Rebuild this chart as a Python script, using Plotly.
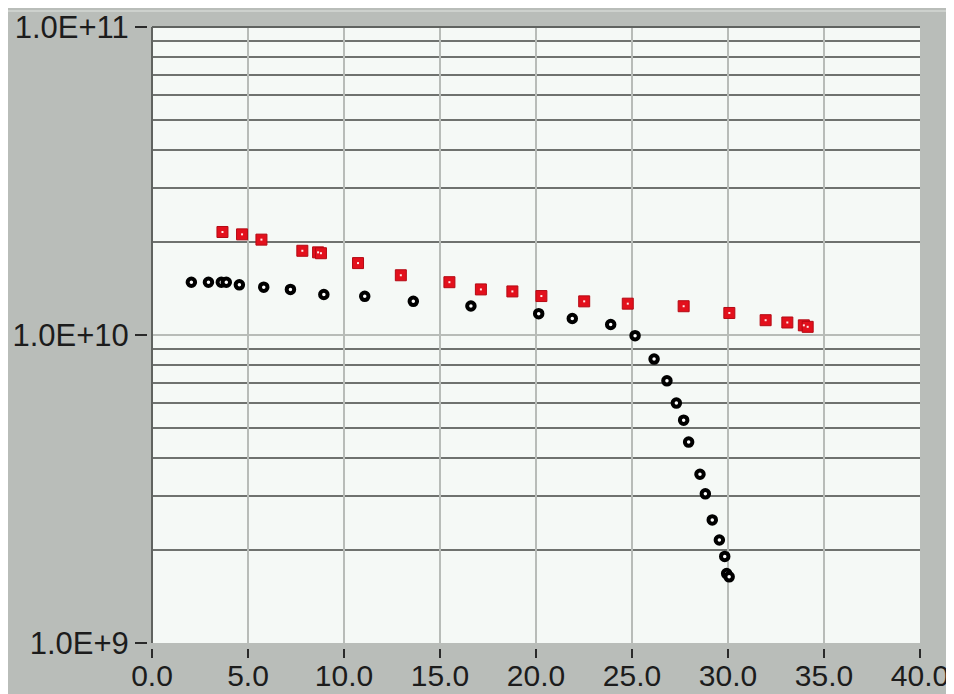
import plotly.graph_objects as go

# ---- data ----
red_x = [3.67, 4.69, 5.70, 7.83, 8.65, 8.80, 10.73, 12.96, 15.49, 17.13, 18.77,
         20.28, 22.51, 24.78, 27.69, 30.07, 31.96, 33.09, 33.95, 34.15]
red_y = [2.160e10, 2.122e10, 2.040e10, 1.877e10, 1.855e10, 1.843e10, 1.712e10,
         1.563e10, 1.484e10, 1.406e10, 1.385e10, 1.338e10, 1.286e10, 1.264e10,
         1.240e10, 1.179e10, 1.117e10, 1.098e10, 1.075e10, 1.063e10]

black_x = [2.05, 2.94, 3.61, 3.87, 4.55, 5.82, 7.21, 8.95, 11.08, 13.61, 16.61,
           20.14, 21.89, 23.89, 25.16, 26.15, 26.82, 27.31, 27.69, 27.95, 28.54,
           28.82, 29.18, 29.55, 29.83, 29.93, 30.06]
black_y = [1.484e10, 1.484e10, 1.484e10, 1.484e10, 1.455e10, 1.430e10, 1.406e10,
           1.354e10, 1.335e10, 1.286e10, 1.242e10, 1.173e10, 1.131e10, 1.082e10,
           9.95e9, 8.35e9, 7.10e9, 6.01e9, 5.29e9, 4.49e9, 3.53e9, 3.05e9,
           2.51e9, 2.16e9, 1.91e9, 1.68e9, 1.64e9]

x_ticks = [0, 5, 10, 15, 20, 25, 30, 35, 40]
x_ticktext = ["0.0", "5.0", "10.0", "15.0", "20.0", "25.0", "30.0", "35.0", "40.0"]
y_ticks = [1e9, 1e10, 1e11]
y_ticktext = ["1.0E+9", "1.0E+10", "1.0E+11"]
y_minor = [k * 10 ** e for e in (9, 10) for k in range(2, 10)]

FONT = "Liberation Sans, Arial, sans-serif"
GRAY_BG = "#b9bdb9"
PLOT_BG = "#f5f9f6"
TXT = "#1c1c1c"

fig = go.Figure()

fig.add_trace(go.Scatter(
    x=black_x, y=black_y, mode="markers",
    marker=dict(symbol="circle", size=7.5, color="white",
                line=dict(color="black", width=4)),
    showlegend=False, hoverinfo="x+y"))

fig.add_trace(go.Scatter(
    x=red_x, y=red_y, mode="markers",
    marker=dict(symbol="square", size=11, color="#e3101c",
                line=dict(color="#b40a14", width=1)),
    showlegend=False, hoverinfo="x+y"))
fig.add_trace(go.Scatter(
    x=red_x, y=red_y, mode="markers",
    marker=dict(symbol="square", size=2, color="#ffe8e8", line=dict(width=0)),
    showlegend=False, hoverinfo="skip"))

FIG_W, FIG_H = 954, 694
L, R, T, B = 139, 42, 19, 54
W = FIG_W - L - R
H = FIG_H - T - B

fig.update_layout(
    width=FIG_W, height=FIG_H,
    margin=dict(l=L, r=R, t=T, b=B, pad=0, autoexpand=False),
    paper_bgcolor=GRAY_BG, plot_bgcolor=PLOT_BG,
    font=dict(family=FONT, size=31, color=TXT),
    xaxis=dict(
        range=[0, 40], domain=[5 / W, 1], anchor="free", position=0,
        tickmode="array", tickvals=x_ticks, ticktext=x_ticktext,
        ticks="outside", ticklen=9, tickwidth=2, tickcolor="#2a2a2a",
        showgrid=True, gridcolor="#b8bcb8", gridwidth=1.5,
        zeroline=True, zerolinecolor="#606360", zerolinewidth=2,
        showline=False, automargin=False, ticklabelstandoff=-8,
        tickfont=dict(family=FONT, size=30, color=TXT),
    ),
    yaxis=dict(
        type="log", range=[9, 11], domain=[5 / H, 1], anchor="free", position=0,
        tickmode="array", tickvals=y_ticks, ticktext=y_ticktext,
        ticks="outside", ticklen=12, tickwidth=2, tickcolor="#2a2a2a",
        showgrid=True, gridcolor="#b8bcb8", gridwidth=2,
        zeroline=False, showline=False, ticklabelstandoff=0, automargin=False,
        minor=dict(tickmode="array", tickvals=y_minor, showgrid=True,
                   gridcolor="#6f726f", gridwidth=2, ticks=""),
        tickfont=dict(family=FONT, size=31, color=TXT),
    ),
    shapes=[
        dict(type="line", xref="x domain", yref="y domain", x0=0, x1=1, y0=1, y1=1,
             line=dict(color="#606360", width=2)),
        dict(type="line", xref="x domain", yref="y domain", x0=0, x1=0, y0=0, y1=1,
             line=dict(color="#606360", width=2)),
        dict(type="line", xref="paper", yref="paper", x0=-0.3, x1=1.3,
             y0=1 + 16 / H, y1=1 + 16 / H, line=dict(color="#cdd1cd", width=2)),
    ],
)

fig.write_html("out.html")
